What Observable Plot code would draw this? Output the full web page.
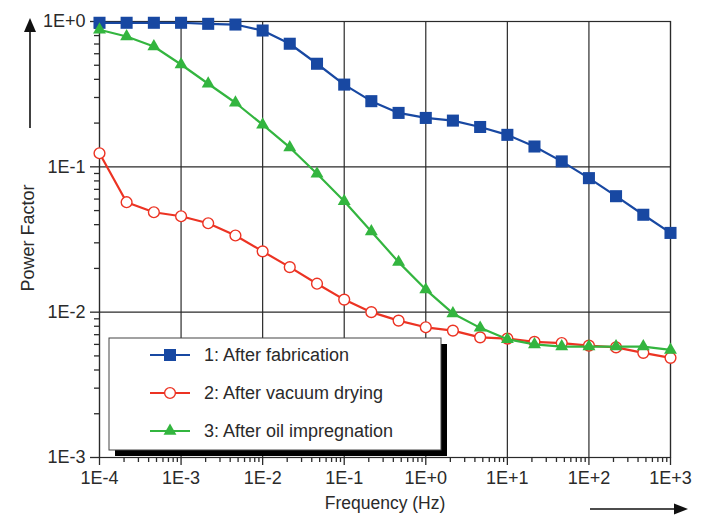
<!DOCTYPE html>
<html>
<head>
<meta charset="utf-8">
<script src="https://cdn.jsdelivr.net/npm/d3@7"></script>
<script src="https://cdn.jsdelivr.net/npm/@observablehq/plot@0.6"></script>
<style>
  html, body { margin: 0; padding: 0; background: #fff; }
  #chart svg { display: block; }
</style>
</head>
<body>
<div id="chart"></div>
<script>
// ---- data ----
const freq = [1e-4, 2.15e-4, 4.64e-4, 1e-3, 2.15e-3, 4.64e-3, 1e-2, 2.15e-2, 4.64e-2, 1e-1, 2.15e-1, 4.64e-1,
              1, 2.15, 4.64, 10, 21.5, 46.4, 100, 215, 464, 1000];
const afterFabrication = [0.98, 0.98, 0.98, 0.98, 0.964, 0.953, 0.867, 0.703, 0.512, 0.368, 0.283, 0.235,
                          0.217, 0.208, 0.188, 0.166, 0.138, 0.109, 0.0836, 0.0628, 0.0468, 0.0351];
const afterVacuumDrying = [0.124, 0.0571, 0.0487, 0.0457, 0.0409, 0.0337, 0.0262, 0.0204, 0.0157, 0.0122, 0.0100, 0.00875,
                           0.00787, 0.00747, 0.00671, 0.00658, 0.00625, 0.00613, 0.00589, 0.00573, 0.00525, 0.00485];
const afterOilImpregnation = [0.877, 0.788, 0.673, 0.506, 0.373, 0.276, 0.195, 0.136, 0.0895, 0.058, 0.0359, 0.0221,
                              0.0143, 0.0098, 0.0078, 0.0065, 0.0060, 0.0058, 0.0058, 0.0058, 0.0058, 0.0055];
const seriesNames = ["1: After fabrication", "2: After vacuum drying", "3: After oil impregnation"];
const seriesColors = ["#1848a2", "#ec3323", "#33b53f"];
const seriesSymbols = ["square", "circle", "triangle"];
const seriesValues = [afterFabrication, afterVacuumDrying, afterOilImpregnation];
const xTickValues = [1e-4, 1e-3, 1e-2, 1e-1, 1, 10, 100, 1000];
const xTickLabels = ["1E-4", "1E-3", "1E-2", "1E-1", "1E+0", "1E+1", "1E+2", "1E+3"];
const yTickValues = [1e-3, 1e-2, 1e-1, 1];
const yTickLabels = ["1E-3", "1E-2", "1E-1", "1E+0"];
const xLabel = "Frequency (Hz)";
const yLabel = "Power Factor";

// ---- derived ----
const minor = (decades) => decades.slice(0, -1).flatMap(d => [2,3,4,5,6,7,8,9].map(m => d * m));
const xMinor = minor(xTickValues);
const yMinor = minor(yTickValues);
const fmtX = v => xTickLabels[xTickValues.findIndex(t => Math.abs(Math.log10(t) - Math.log10(v)) < 1e-6)];
const fmtY = v => yTickLabels[yTickValues.findIndex(t => Math.abs(Math.log10(t) - Math.log10(v)) < 1e-6)];

const rows = seriesValues.map((vals, s) => freq.map((f, i) => ({f, v: vals[i], s})));
const font = "'Liberation Sans', Arial, sans-serif";
const ink = "#2a2a2a";
const symR = [6.8, 5.4, 4.8];

const lineAndDots = rows.flatMap((data, s) => [
  Plot.line(data, {x: "f", y: "v", stroke: seriesColors[s], strokeWidth: 2.2}),
  Plot.dot(data, {
    x: "f", y: "v", symbol: () => seriesSymbols[s],
    r: symR[s],
    fill: s === 1 ? "white" : seriesColors[s],
    stroke: seriesColors[s], strokeWidth: s === 1 ? 1.4 : 0
  })
]);

const plot = Plot.plot({
  width: 706, height: 516,
  marginLeft: 99, marginRight: 36, marginTop: 21, marginBottom: 59,
  style: {fontFamily: font, fontSize: "18px", color: ink, background: "white"},
  x: {type: "log", domain: [1e-4, 1e3]},
  y: {type: "log", domain: [1e-3, 1]},
  marks: [
    Plot.gridX(xTickValues, {stroke: ink, strokeOpacity: 1, strokeWidth: 1.2}),
    Plot.gridY(yTickValues, {stroke: ink, strokeOpacity: 1, strokeWidth: 1.2}),
    Plot.frame({stroke: ink, strokeWidth: 1.2}),
    Plot.axisX(xMinor, {tickSize: 5, tickFormat: null, text: null, label: null, stroke: ink, strokeWidth: 1.3}),
    Plot.axisX(xTickValues, {tickSize: 8, tickPadding: 6, tickFormat: fmtX, label: null, fontSize: 18, stroke: ink, strokeWidth: 1.3}),
    Plot.axisY(yMinor, {tickSize: 5, tickFormat: null, text: null, label: null, stroke: ink, strokeWidth: 1.3}),
    Plot.axisY(yTickValues, {tickSize: 9, tickPadding: 5, tickFormat: fmtY, label: null, fontSize: 18, stroke: ink, strokeWidth: 1.3}),
    ...lineAndDots
  ]
});
document.getElementById("chart").appendChild(plot);

// ---- decorations: axis titles, arrows, legend ----
const svg = d3.select(plot);
const g = svg.append("g").attr("font-family", font).attr("fill", ink);
g.append("text").text(xLabel).attr("x", 385).attr("y", 503).attr("dy", "0.35em")
  .attr("text-anchor", "middle").attr("font-size", 17.5);
g.append("text").text(yLabel).attr("transform", "translate(28,238) rotate(-90)").attr("dy", "0.35em")
  .attr("text-anchor", "middle").attr("font-size", 18);

// arrows
g.append("line").attr("x1", 30).attr("x2", 30).attr("y1", 128).attr("y2", 30).attr("stroke", "#111").attr("stroke-width", 1.6);
g.append("path").attr("d", "M30,18 L36,32 L24,32 Z").attr("fill", "#111");
g.append("line").attr("x1", 590).attr("x2", 676).attr("y1", 509).attr("y2", 509).attr("stroke", "#111").attr("stroke-width", 1.6);
g.append("path").attr("d", "M688,509 L674,503.5 L674,514.5 Z").attr("fill", "#111");

// legend
const lg = svg.append("g").attr("font-family", font).attr("text-anchor", "start");
lg.append("rect").attr("x", 115).attr("y", 344).attr("width", 332).attr("height", 112).attr("fill", "#000");
lg.append("rect").attr("x", 109).attr("y", 338).attr("width", 332).attr("height", 112)
  .attr("fill", "white").attr("stroke", "#444").attr("stroke-width", 1);
const rowY = [355, 393, 431];
const symMap = {square: d3.symbolSquare, circle: d3.symbolCircle, triangle: d3.symbolTriangle};
seriesNames.forEach((name, s) => {
  const y = rowY[s];
  lg.append("line").attr("x1", 150).attr("x2", 190).attr("y1", y).attr("y2", y)
    .attr("stroke", seriesColors[s]).attr("stroke-width", 2.2);
  lg.append("path").attr("transform", `translate(170,${y})`)
    .attr("d", d3.symbol(symMap[seriesSymbols[s]], Math.PI * symR[s] * symR[s])())
    .attr("fill", s === 1 ? "white" : seriesColors[s])
    .attr("stroke", seriesColors[s]).attr("stroke-width", s === 1 ? 1.4 : 0);
  lg.append("text").text(name).attr("x", 204).attr("y", y).attr("dy", "0.35em")
    .attr("text-anchor", "start").attr("font-size", 18).attr("fill", ink);
});
</script>
</body>
</html>
